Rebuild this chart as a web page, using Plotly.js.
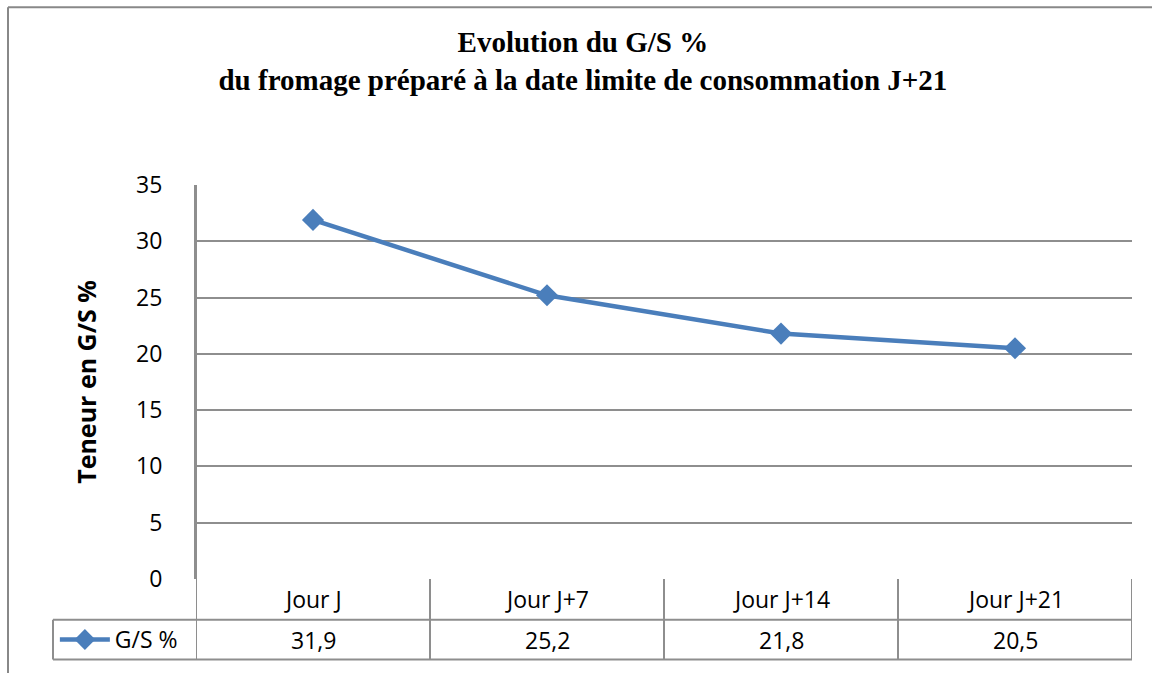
<!DOCTYPE html>
<html>
<head>
<meta charset="utf-8">
<script src="https://cdn.plot.ly/plotly-3.0.1.min.js"></script>
<style>html,body{margin:0;padding:0;background:#fff;}#chart{width:1152px;height:673px;}</style>
</head>
<body>
<div id="chart"></div>
<script>
var categories = ["Jour J", "Jour J+7", "Jour J+14", "Jour J+21"];
var values = [31.9, 25.2, 21.8, 20.5];
var seriesName = "G/S %";
var yTicks = [0, 5, 10, 15, 20, 25, 30, 35];
var titleText = "<b>Evolution du G/S %</b><br><b>du fromage préparé à la date limite de consommation J+21</b>";
var yTitle = "<b>Teneur en G/S %</b>";

var W = 1152, H = 673;
var mL = 196, mR = 20, mT = 185, mB = 91;
var plotH = H - mT - mB;
var blue = "#4A7EBB";
var grid = "#8e8e8e";
var sans = "'Open Sans', Lato, sans-serif";

function py(pixelY) { return (H - mB - pixelY) / plotH; }
var row1Bottom = py(623), row2Bottom = py(663);
var legendLeftPaper = (53 - mL) / (W - mL - mR);

var shapes = [];
shapes.push({type: "line", xref: "paper", yref: "paper", x0: (8 - mL) / (W - mL - mR), x1: (W - mL) / (W - mL - mR), y0: py(6), y1: py(6), line: {color: "#888", width: 2}});
shapes.push({type: "line", xref: "paper", yref: "paper", x0: (8 - mL) / (W - mL - mR), x1: (8 - mL) / (W - mL - mR), y0: py(6), y1: py(H + 5), line: {color: "#888", width: 2}});
[row1Bottom, row2Bottom].forEach(function (yy) {
  shapes.push({type: "line", xref: "paper", yref: "paper", x0: legendLeftPaper, x1: 1, y0: yy, y1: yy, line: {color: grid, width: 2}});
});
for (var i = 0; i <= categories.length; i++) {
  shapes.push({type: "line", xref: "x", yref: "paper", x0: i - 0.5, x1: i - 0.5, y0: (i === 0 ? 1 : 0), y1: row2Bottom, line: {color: grid, width: 2}});
}
shapes.push({type: "line", xref: "paper", yref: "paper", x0: legendLeftPaper, x1: legendLeftPaper, y0: row1Bottom, y1: row2Bottom, line: {color: grid, width: 2}});

var annotations = [];
categories.forEach(function (c, i) {
  annotations.push({xref: "x", yref: "paper", x: i, y: (0 + row1Bottom) / 2, text: c, showarrow: false, xanchor: "center", yanchor: "middle", font: {family: sans, size: 23, color: "#000"}});
  annotations.push({xref: "x", yref: "paper", x: i, y: (row1Bottom + row2Bottom) / 2, text: values[i].toFixed(1).replace(".", ","), showarrow: false, xanchor: "center", yanchor: "middle", font: {family: sans, size: 23, color: "#000"}});
});

var trace = {
  type: "scatter", mode: "lines+markers", x: categories, y: values, name: seriesName,
  line: {color: blue, width: 4.5},
  marker: {symbol: "diamond", size: 17, color: blue},
  cliponaxis: false
};

var layout = {
  width: W, height: H,
  margin: {l: mL, r: mR, t: mT, b: mB, pad: 0},
  paper_bgcolor: "#fff", plot_bgcolor: "#fff",
  title: {text: titleText, x: 0.506, xanchor: "center", y: 0.922, yanchor: "middle", font: {family: "'Liberation Serif', 'Times New Roman', serif", size: 29, color: "#000"}},
  xaxis: {type: "category", range: [-0.5, categories.length - 0.5], showticklabels: false, showgrid: false, zeroline: false, showline: false, ticks: "", fixedrange: true},
  yaxis: {range: [0, 35], tickvals: yTicks, ticktext: yTicks.map(String), showgrid: true, gridcolor: grid, gridwidth: 2, zeroline: false, showline: true, linecolor: grid, linewidth: 2, ticks: "", ticklabelstandoff: 27,
    tickfont: {family: sans, size: 23, color: "#000"},
    title: {text: yTitle, font: {family: sans, size: 25, color: "#000"}, standoff: 32}},
  showlegend: true,
  legend: {x: legendLeftPaper + 0.002, xanchor: "left", y: (row1Bottom + row2Bottom) / 2, yanchor: "middle", bgcolor: "rgba(0,0,0,0)", font: {family: sans, size: 23, color: "#000"}, itemwidth: 50, tracegroupgap: 0},
  shapes: shapes,
  annotations: annotations
};

Plotly.newPlot("chart", [trace], layout, {displayModeBar: false, staticPlot: true});
</script>
</body>
</html>
